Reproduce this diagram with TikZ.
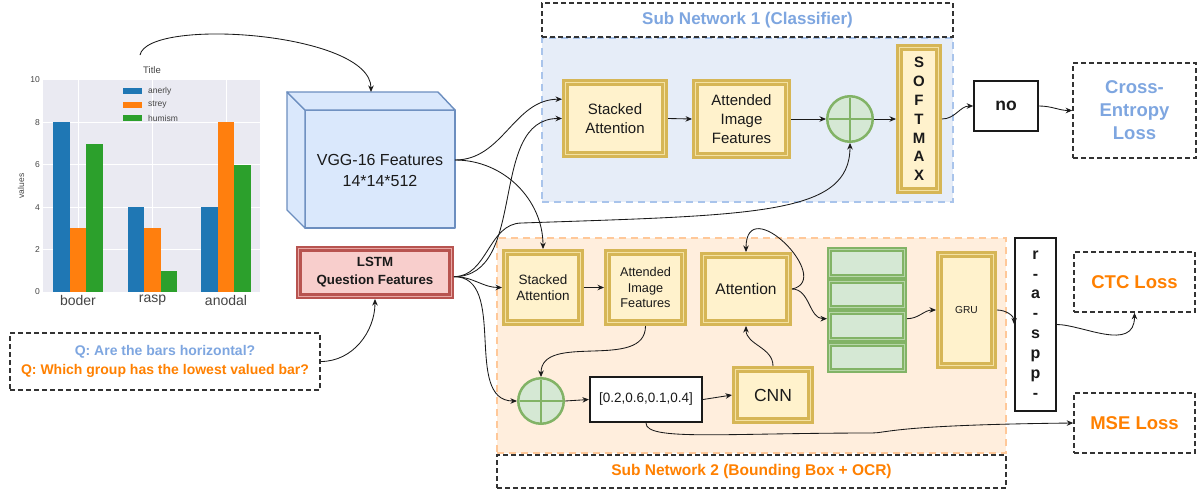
\documentclass[tikz,border=0pt]{standalone}
\usepackage{fontspec}
\setmainfont{Liberation Sans}
\usetikzlibrary{arrows.meta}

\newcommand\fsz[2]{\fontsize{#1}{#2}\selectfont}

\definecolor{ink}{HTML}{1A1A1A}
\definecolor{dashc}{HTML}{333333}
\definecolor{tick}{HTML}{444444}
\definecolor{goldD}{HTML}{D6B656}
\definecolor{goldF}{HTML}{FFF2CC}
\definecolor{goldS}{HTML}{F4E2A4}
\definecolor{redD}{HTML}{B85450}
\definecolor{redF}{HTML}{F8CECC}
\definecolor{redS}{HTML}{E9A8A5}
\definecolor{grnD}{HTML}{82B366}
\definecolor{grnF}{HTML}{D5E8D4}
\definecolor{grnS}{HTML}{B7D6A8}
\definecolor{bluD}{HTML}{6C8EBF}
\definecolor{bluF}{HTML}{DAE8FC}
\definecolor{qblue}{HTML}{7EA6E0}
\definecolor{qorange}{HTML}{FF8000}
\definecolor{snAfill}{HTML}{E6EDF8}
\definecolor{snAline}{HTML}{A9C4EB}
\definecolor{snBfill}{HTML}{FFEEDD}
\definecolor{snBline}{HTML}{FFC899}
\definecolor{plotbg}{HTML}{EAEAF2}
\definecolor{mplblue}{HTML}{1F77B4}
\definecolor{mplorange}{HTML}{FF7F0E}
\definecolor{mplgreen}{HTML}{2CA02C}

\tikzset{
  conn/.style={draw=ink, line width=0.85pt, -{Stealth[length=6.5pt,width=5.5pt]}},
  goldbox/.style={draw=goldD, fill=goldF, line width=2.9pt, double=goldS,
    double distance=1.2pt, outer sep=3.5pt, inner sep=0pt, align=center, text=ink},
  grnbox/.style={draw=grnD, fill=grnF, line width=2pt, double=grnS,
    double distance=1pt, outer sep=2.5pt, inner sep=0pt},
  redbox/.style={draw=redD, fill=redF, line width=2.2pt, double=redS,
    double distance=1.2pt, outer sep=2.8pt, inner sep=0pt, align=center, text=ink},
  plainbox/.style={draw=ink, fill=white, line width=1.6pt, inner sep=0pt, align=center, text=ink},
  lossbox/.style={draw=dashc, dash pattern=on 5pt off 3pt, line width=1.6pt,
    inner sep=0pt, align=center, font=\fsz{18.5}{23}\bfseries},
  titlebox/.style={draw=dashc, dash pattern=on 5pt off 3pt, line width=1.6pt,
    fill=white, inner sep=0pt, font=\bfseries},
  regionbox/.style={dash pattern=on 7pt off 5pt, line width=2pt, inner sep=0pt},
  plusnode/.style={circle, draw=grnD, fill=grnF, line width=2.5pt,
    minimum size=45.5pt, inner sep=0pt, outer sep=1.25pt},
  pluscross/.style={draw=grnD, line width=2.2pt},
}

\begin{document}
\begin{tikzpicture}[x=1pt, y=-1pt]
\useasboundingbox (0,0) rectangle (1199,490);

% ---------- bar chart ----------
\node[minimum width=270pt, minimum height=254pt, inner sep=0pt, outer sep=0pt] (chart) at (140,182) {};
\fill[plotbg] (43,80) rectangle (260,292);
\foreach \v in {2,4,6,8}
  \draw[white, line width=0.9pt] (43,{292-21.2*\v}) -- (260,{292-21.2*\v});
\foreach \cx in {78,152.5,226}
  \draw[white, line width=0.9pt] (\cx,80) -- (\cx,292);
\foreach \cx/\a/\b/\c in {78/8/3/7, 152.5/4/3/1, 226/4/8/6} {
  \fill[mplblue]   ({\cx-24.75},292) rectangle ({\cx-8.25},{292-21.2*\a});
  \fill[mplorange] ({\cx-8.25},292)  rectangle ({\cx+8.25},{292-21.2*\b});
  \fill[mplgreen]  ({\cx+8.25},292)  rectangle ({\cx+24.75},{292-21.2*\c});
}
\foreach \v in {0,2,4,6,8,10}
  \node[anchor=east, inner sep=0pt, font=\fsz{8.5}{10}, text=tick] at (40,{292-21.2*\v}) {\v};
\foreach \cx/\lbl in {78/boder, 152.5/rasp, 226/anodal}
  \node[inner sep=0pt, font=\fsz{14}{16}, text=tick] at (\cx,300) {\lbl};
\node[rotate=90, inner sep=0pt, font=\fsz{8.5}{10}, text=tick] at (21,186) {values};
\node[inner sep=0pt, font=\fsz{9.5}{11}, text=tick] at (152,70) {Title};
\foreach \yy/\col/\lbl in {91/mplblue/anerly, 104.5/mplorange/strey, 118/mplgreen/humism} {
  \fill[\col] (123,{\yy-3}) rectangle (142,{\yy+3});
  \node[anchor=west, inner sep=0pt, font=\fsz{8.5}{10}, text=tick] at (148,\yy) {\lbl};
}

% ---------- question box ----------
\node[lossbox, minimum width=310pt, minimum height=57pt, font=\fsz{14}{19}\bfseries] (qbox) at (165,361.5)
  {\textcolor{qblue}{Q: Are the bars horizontal?}\\\textcolor{qorange}{Q: Which group has the lowest valued bar?}};

% ---------- VGG feature cuboid ----------
\node[minimum width=168pt, minimum height=136pt, inner sep=0pt, outer sep=0pt] (vgg) at (371,160) {};
\begin{scope}[fill=bluF, draw=bluD, line width=1.4pt, line join=round]
  \filldraw (305,110) rectangle (455,228);
  \filldraw (287,92) -- (305,110) -- (305,228) -- (287,210) -- cycle;
  \filldraw (287,92) -- (438,92) -- (455,110) -- (305,110) -- cycle;
\end{scope}
\node[font=\fsz{16}{21}, align=center, text=ink, inner sep=0pt] (vggtext) at (380,170) {VGG-16 Features\\14*14*512};

% ---------- LSTM ----------
\node[redbox, minimum width=152.4pt, minimum height=47.4pt, font=\fsz{13.3}{18}\bfseries] (lstm) at (375,272.5)
  {LSTM\\Question Features};

% ---------- sub network 1 ----------
\node[regionbox, draw=snAline, fill=snAfill, minimum width=411pt, minimum height=164pt] (subA) at (747.5,120) {};
\node[titlebox, minimum width=411pt, minimum height=34pt, text=qblue, font=\fsz{17}{20}\bfseries] (subAtitle) at (747.5,20) {Sub Network 1 (Classifier)};

\node[goldbox, minimum width=99pt, minimum height=72pt, font=\fsz{15}{19}] (saA) at (615,118.5) {Stacked\\Attention};
\node[goldbox, minimum width=92pt, minimum height=73pt, font=\fsz{15}{19}] (aifA) at (741.5,119) {Attended\\Image\\Features};
\node[plusnode] (plusA) at (850,119) {};
\draw[pluscross] ([yshift=21.5pt]plusA.center) -- ([yshift=-21.5pt]plusA.center);
\draw[pluscross] ([xshift=-21.5pt]plusA.center) -- ([xshift=21.5pt]plusA.center);
\node[goldbox, minimum width=39pt, minimum height=143pt, font=\fsz{15}{18.8}\bfseries] (softmax) at (919,119) {S\\O\\F\\T\\M\\A\\X};

\node[plainbox, minimum width=64pt, minimum height=50pt, font=\fsz{17.5}{20}\bfseries] (no) at (1006,106) {no};
\node[lossbox, minimum width=123pt, minimum height=95pt, text=qblue] (ce) at (1134.5,110.5) {Cross-\\Entropy\\Loss};

% ---------- sub network 2 ----------
\node[regionbox, draw=snBline, fill=snBfill, minimum width=509pt, minimum height=215pt] (subB) at (751.5,345.5) {};
\node[titlebox, minimum width=509pt, minimum height=33pt, text=qorange, font=\fsz{15.5}{18}\bfseries] (subBtitle) at (751.5,471.5) {Sub Network 2 (Bounding Box + OCR)};

\node[goldbox, minimum width=75pt, minimum height=70pt, font=\fsz{13.5}{16}] (saB) at (543,287.5) {Stacked\\Attention};
\node[goldbox, minimum width=76pt, minimum height=70pt, font=\fsz{12.7}{15.5}] (aifB) at (645.5,287.5) {Attended\\Image\\Features};
\node[goldbox, minimum width=85pt, minimum height=67pt, font=\fsz{15.5}{18}] (att) at (746,289) {Attention};
\node[plusnode] (plusB) at (541,401) {};
\draw[pluscross] ([yshift=21.5pt]plusB.center) -- ([yshift=-21.5pt]plusB.center);
\draw[pluscross] ([xshift=-21.5pt]plusB.center) -- ([xshift=21.5pt]plusB.center);
\node[plainbox, minimum width=112.5pt, minimum height=45.5pt, font=\fsz{13.5}{16}] (bbox) at (646,399.5) {[0.2,0.6,0.1,0.4]};
\node[goldbox, minimum width=75pt, minimum height=51pt, font=\fsz{17.5}{20}] (cnn) at (773,395) {CNN};

\node[grnbox, minimum width=75pt, minimum height=26.5pt] (rowA) at (867,262.75) {};
\node[grnbox, minimum width=75pt, minimum height=26.5pt] (rowB) at (867,294.25) {};
\node[grnbox, minimum width=75pt, minimum height=26.5pt] (rowC) at (867,325.75) {};
\node[grnbox, minimum width=75pt, minimum height=26.5pt] (rowD) at (867,357.25) {};

\node[goldbox, minimum width=54pt, minimum height=111pt, font=\fsz{10.2}{12}] (gru) at (966.5,310) {GRU};
\node[plainbox, minimum width=41pt, minimum height=173pt, font=\fsz{16}{19.9}\bfseries] (raspp) at (1035.5,324.5) {r\\-\\a\\-\\s\\p\\p\\-};

\node[lossbox, minimum width=121pt, minimum height=60pt, text=qorange] (ctc) at (1134.5,282) {CTC Loss};
\node[lossbox, minimum width=121pt, minimum height=60pt, text=qorange] (mse) at (1134.5,423) {MSE Loss};

% ---------- connectors ----------
\coordinate (qtap) at (522,223);
\coordinate (mseknee) at (872,433);

\draw[conn] (chart.north) .. controls +(8,-38) and +(0,-60) .. (vgg.north);
\draw[conn] (qbox.east) to[out=0,in=270] (lstm.south);

\draw[conn] (vgg.east) to[out=0,in=180] (saA.160);
\draw[conn] (vgg.east) to[out=0,in=90] (saB.north);
\draw[conn] (lstm.357) to[out=0,in=180] (saA.west);
\draw[conn] (lstm.357) to[out=0,in=180] (qtap) .. controls +(235,-8) and +(0,72) .. (plusA.south);
\draw[conn] (lstm.357) to[out=0,in=180] (saB.west);
\draw[conn] (lstm.357) to[out=0,in=180] (plusB.west);

\draw[conn] (saA.east) -- (aifA.west);
\draw[conn] (aifA.east) -- (plusA.west);
\draw[conn] (plusA.east) -- (softmax.west);
\draw[conn] (softmax.east) to[out=0,in=180] (no.west);
\draw[conn] (no.east) to[out=0,in=180] (ce.west);

\draw[conn] (saB.east) -- (aifB.west);
\draw[conn] (aifB.south) to[out=270,in=90] (plusB.north);
\draw[conn] (plusB.east) -- (bbox.west);
\draw[conn] (bbox.east) -- (cnn.west);
\draw[conn] (cnn.north) to[out=90,in=270] (att.south);
\draw[conn] (att.east) .. controls +(43,-9) and +(0,-62) .. (att.north);
\draw[conn] (att.east) to[out=0,in=180] (rowC.170);
\draw[conn] (rowC.10) to[out=0,in=180] (gru.west);
\draw[conn] (gru.east) to[out=0,in=90] (raspp.west);
\draw[conn] (raspp.east) .. controls +(25,0) and +(0,40) .. (ctc.south);
\draw[conn] (bbox.south) .. controls +(0,18) and +(-150,0) .. (mseknee) .. controls +(15,0) and +(-180,2) .. (mse.west);
\end{tikzpicture}
\end{document}
